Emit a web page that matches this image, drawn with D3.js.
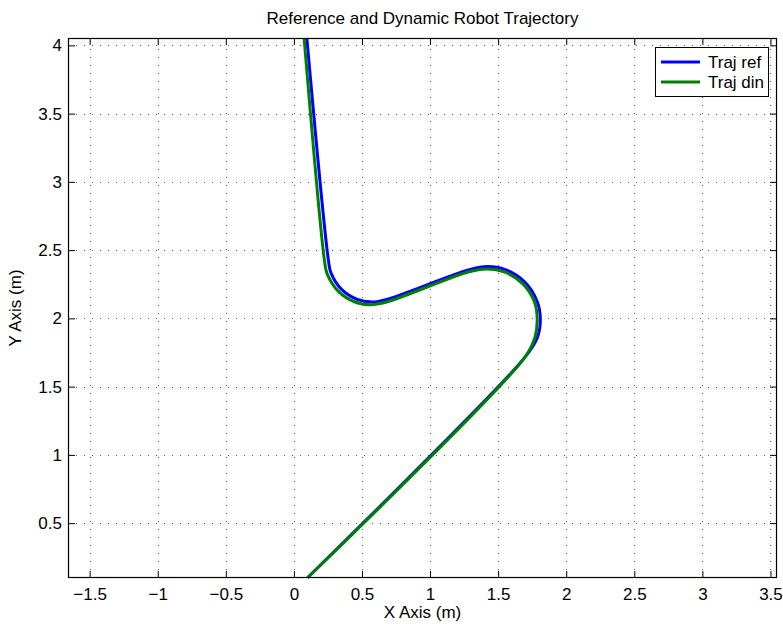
<!DOCTYPE html>
<html>
<head>
<meta charset="utf-8">
<script src="https://cdn.jsdelivr.net/npm/d3@7"></script>
<style>
  body { margin: 0; background: #fff; }
  svg { font-family: "Liberation Sans", Arial, sans-serif; }
</style>
</head>
<body>
<div id="chart"></div>
<script>
// Tick values
var xTicks = [-1.5, -1, -0.5, 0, 0.5, 1, 1.5, 2, 2.5, 3, 3.5];
var yTicks = [0.5, 1, 1.5, 2, 2.5, 3, 3.5, 4];

// Reference trajectory
var trajRef = [
  [0.1, 0.1], [1.696, 1.714], [1.787, 1.857], [1.81, 1.99], [1.787, 2.123],
  [1.696, 2.266], [1.553, 2.357], [1.42, 2.38], [1.287, 2.356],
  [0.683, 2.139], [0.574, 2.12], [0.465, 2.139], [0.348, 2.214],
  [0.273, 2.331], [0.256, 2.408], [0.095, 4.054]
];

// Dynamic trajectory
var trajDin = [
  [0.1, 0.1], [1.696, 1.714], [1.77, 1.86], [1.787, 1.99], [1.767, 2.12],
  [1.68, 2.255], [1.545, 2.34], [1.416, 2.362], [1.28, 2.34],
  [0.681, 2.12], [0.565, 2.1], [0.449, 2.12], [0.325, 2.2],
  [0.245, 2.324], [0.227, 2.405], [0.075, 4.054]
];

var series = [
  { name: "Traj ref", color: "#0000ff", values: trajRef },
  { name: "Traj din", color: "#008000", values: trajDin }
];

var width = 783, height = 624;
var margin = { top: 38, right: 6, bottom: 46, left: 68 };
var fontSize = 17;

var svg = d3.select("#chart").append("svg")
  .attr("width", width)
  .attr("height", height);

var x = d3.scaleLinear()
  .domain([-1.659, 3.548])
  .range([margin.left, width - margin.right]);

var y = d3.scaleLinear()
  .domain([0.098, 4.054])
  .range([height - margin.bottom, margin.top]);

var fmt = d3.format("~g");

// dotted grid
var grid = svg.append("g").attr("class", "grid")
  .attr("stroke", "#555")
  .attr("stroke-width", 1)
  .attr("stroke-dasharray", "1,7")
  .attr("shape-rendering", "crispEdges");

grid.selectAll("line.gx")
  .data(xTicks)
  .join("line")
  .attr("class", "gx")
  .attr("x1", (d) => Math.round(x(d)) + 0.5)
  .attr("x2", (d) => Math.round(x(d)) + 0.5)
  .attr("y1", height - margin.bottom)
  .attr("y2", margin.top);

grid.selectAll("line.gy")
  .data(yTicks)
  .join("line")
  .attr("class", "gy")
  .attr("y1", (d) => Math.round(y(d)) + 0.5)
  .attr("y2", (d) => Math.round(y(d)) + 0.5)
  .attr("x1", margin.left)
  .attr("x2", width - margin.right);

// axes, ticks pointing inward on all four sides
var tickLen = 7;

var xAxis = (g) =>
  g.attr("transform", `translate(0,${height - margin.bottom})`)
    .call(d3.axisBottom(x).tickValues(xTicks).tickFormat(fmt)
      .tickSizeInner(-tickLen).tickSizeOuter(0).tickPadding(10));

var xAxisTop = (g) =>
  g.attr("transform", `translate(0,${margin.top})`)
    .call(d3.axisTop(x).tickValues(xTicks).tickFormat("")
      .tickSizeInner(-tickLen).tickSizeOuter(0));

var yAxis = (g) =>
  g.attr("transform", `translate(${margin.left},0)`)
    .call(d3.axisLeft(y).tickValues(yTicks).tickFormat(fmt)
      .tickSizeInner(-tickLen).tickSizeOuter(0).tickPadding(6));

var yAxisRight = (g) =>
  g.attr("transform", `translate(${width - margin.right},0)`)
    .call(d3.axisRight(y).tickValues(yTicks).tickFormat("")
      .tickSizeInner(-tickLen).tickSizeOuter(0));

[xAxis, xAxisTop, yAxis, yAxisRight].forEach(function (ax) {
  svg.append("g")
    .call(ax)
    .call((g) => g.select(".domain").remove())
    .call((g) => g.selectAll("line").attr("stroke", "#000"))
    .call((g) => g.selectAll("text")
      .attr("font-family", "Liberation Sans, Arial, sans-serif")
      .attr("font-size", fontSize)
      .attr("fill", "#000"));
});

// trajectories
var line = d3.line()
  .x((d) => x(d[0]))
  .y((d) => y(d[1]))
  .curve(d3.curveCatmullRom.alpha(0.5));

svg.append("g")
  .selectAll("path")
  .data(series)
  .join("path")
  .attr("fill", "none")
  .attr("stroke", (d) => d.color)
  .attr("stroke-width", 3)
  .attr("stroke-linejoin", "round")
  .attr("d", (d) => line(d.values));

// plot box
svg.append("rect")
  .attr("x", margin.left + 0.5)
  .attr("y", margin.top + 0.5)
  .attr("width", width - margin.left - margin.right - 1)
  .attr("height", height - margin.top - margin.bottom - 1)
  .attr("fill", "none")
  .attr("stroke", "#000")
  .attr("stroke-width", 1.2);

// title and axis labels
svg.append("text")
  .attr("x", (margin.left + width - margin.right) / 2)
  .attr("y", 24)
  .attr("text-anchor", "middle")
  .attr("font-size", fontSize)
  .text("Reference and Dynamic Robot Trajectory");

svg.append("text")
  .attr("x", (margin.left + width - margin.right) / 2)
  .attr("y", 618)
  .attr("text-anchor", "middle")
  .attr("font-size", fontSize)
  .text("X Axis (m)");

svg.append("text")
  .attr("transform", `translate(21,${(margin.top + height - margin.bottom) / 2}) rotate(-90)`)
  .attr("text-anchor", "middle")
  .attr("font-size", fontSize)
  .text("Y Axis (m)");

// legend
var lx = 655, ly = 47, lw = 113, lh = 49;
var legend = svg.append("g");

legend.append("rect")
  .attr("x", lx + 0.5)
  .attr("y", ly + 0.5)
  .attr("width", lw)
  .attr("height", lh)
  .attr("fill", "#fff")
  .attr("stroke", "#000")
  .attr("stroke-width", 1);

var rows = legend.selectAll("g.row")
  .data(series)
  .join("g")
  .attr("class", "row")
  .attr("transform", (d, i) => `translate(${lx},${ly + 15 + i * 20})`);

rows.append("line")
  .attr("x1", 6)
  .attr("x2", 45)
  .attr("stroke", (d) => d.color)
  .attr("stroke-width", 3);

rows.append("text")
  .attr("x", 53)
  .attr("dy", "0.35em")
  .attr("font-size", fontSize)
  .text((d) => d.name);
</script>
</body>
</html>
